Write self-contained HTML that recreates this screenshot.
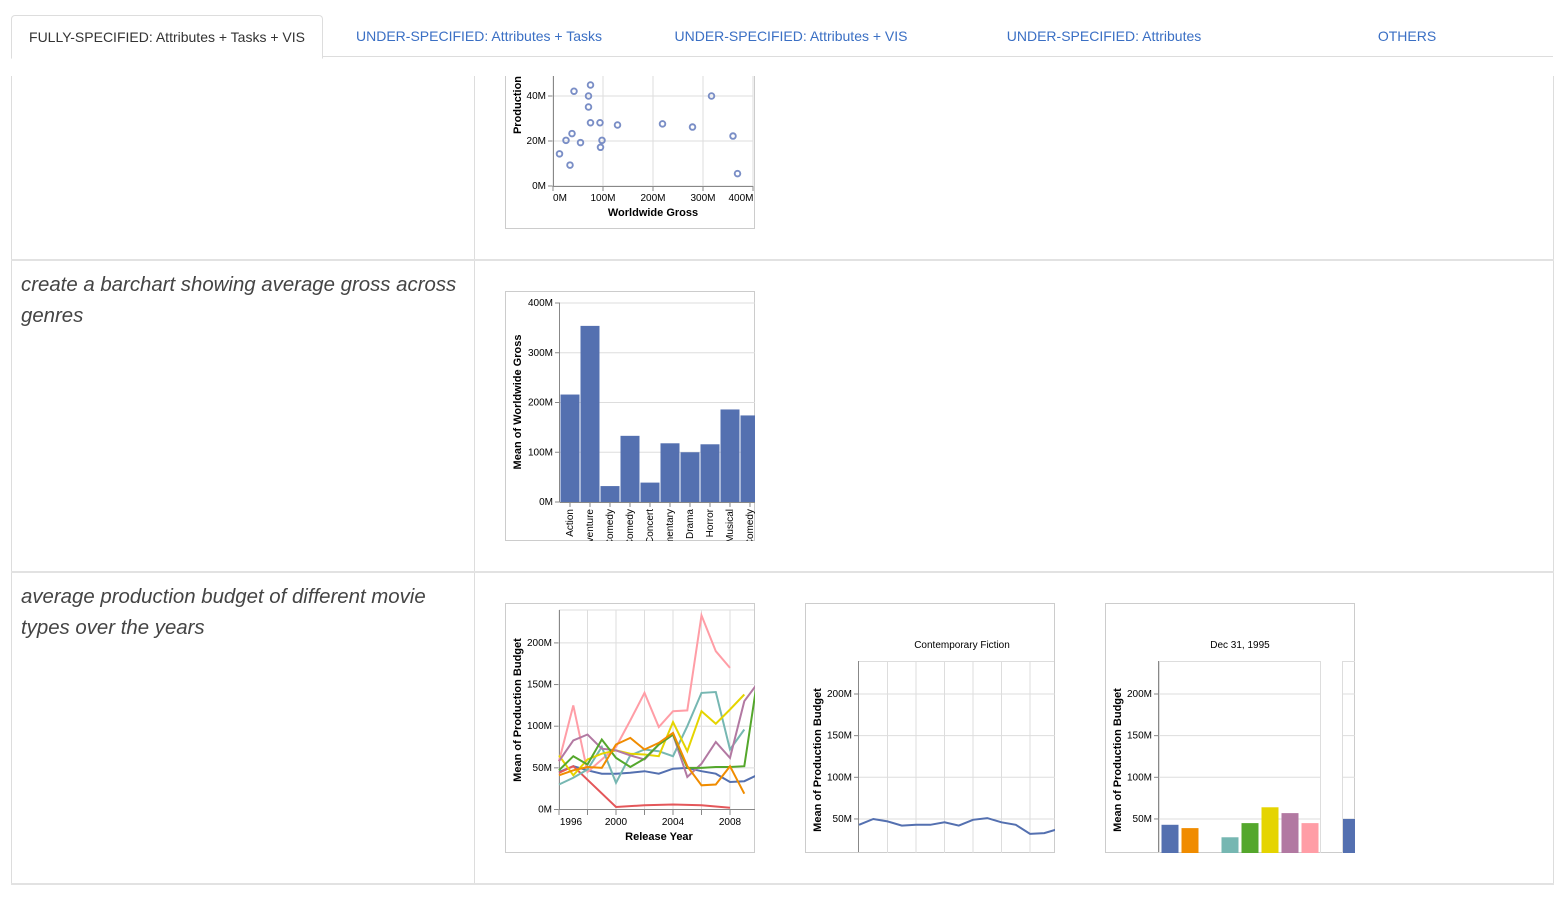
<!DOCTYPE html>
<html><head><meta charset="utf-8">
<style>
body{margin:0;width:1560px;height:915px;position:relative;background:#fff;font-family:"Liberation Sans",Arial,sans-serif;overflow:hidden}
.hdr{position:absolute;left:0;top:0;width:1560px;height:76px;background:#fff;z-index:5}
.tab{position:absolute;top:15px;height:42px;line-height:42px;font-size:14px;color:#3a6fc4;text-align:center}
.tab.active{left:11px;width:310px;border:1px solid #ddd;border-bottom:1px solid #fff;border-radius:4px 4px 0 0;color:#333;background:#fff}
.tabline{position:absolute;left:322px;top:56px;width:1231px;height:1px;background:#ddd}
.vline{position:absolute;width:1px;background:#ddd;top:60px;height:824px}
.hline{position:absolute;left:11px;width:1543px;height:2px;background:#e2e2e2}
.q{position:absolute;left:21px;width:450px;font-size:20.4px;font-style:italic;font-weight:300;color:#444;line-height:31px}
svg.ch{position:absolute;overflow:hidden}
svg text{font-family:"Liberation Sans",Arial,sans-serif}
</style></head><body>
<div class="hdr">
 <div class="tab active">FULLY-SPECIFIED: Attributes + Tasks + VIS</div>
 <div class="tab" style="left:330px;width:298px">UNDER-SPECIFIED: Attributes + Tasks</div>
 <div class="tab" style="left:640px;width:302px">UNDER-SPECIFIED: Attributes + VIS</div>
 <div class="tab" style="left:960px;width:288px">UNDER-SPECIFIED: Attributes</div>
 <div class="tab" style="left:1340px;width:134px">OTHERS</div>
 <div class="tabline"></div>
</div>
<div class="vline" style="left:11px"></div>
<div class="vline" style="left:474px"></div>
<div class="vline" style="left:1553px"></div>
<div class="hline" style="top:259px"></div>
<div class="hline" style="top:571px"></div>
<div class="hline" style="top:883px"></div>
<div class="q" style="top:270px">create a barchart showing average gross across genres</div>
<div class="q" style="top:582px">average production budget of different movie types over the years</div>

<svg class="ch" id="sc" style="left:505px;top:20px" width="250" height="209" viewBox="505 20 250 209"></svg>
<svg class="ch" id="bc" style="left:505px;top:291px" width="250" height="250" viewBox="505 291 250 250"></svg>
<svg class="ch" id="lc" style="left:505px;top:603px" width="250" height="250" viewBox="505 603 250 250"></svg>
<svg class="ch" id="mc" style="left:805px;top:603px" width="250" height="250" viewBox="805 603 250 250"></svg>
<svg class="ch" id="rc" style="left:1105px;top:603px" width="250" height="250" viewBox="1105 603 250 250"></svg>

<script>
// scatter data (millions)
const scatterGross=[13,26,34,38,42,55,71,71,75,75,94,95,98,129,219,279,317,360,369,26,180,290,320];
const scatterBudget=[14.3,20.3,9.3,23.3,42.1,19.3,40,35.1,44.9,28.1,28.1,17.2,20.3,27.1,27.6,26.2,40,22.2,5.5,55,55,55,55];
const scatterXTicks=[0,100,200,300,400];
const scatterYTicks=[0,20,40];
// bar data
const genres=["Action","Adventure","Black Comedy","Comedy","Concert","Documentary","Drama","Horror","Musical","Romantic Comedy"];
const genreGross=[216,354,32,133,39,118,100,116,186,174];
const barYTicks=[0,100,200,300,400];
// line data
const years=[1996,1997,1998,1999,2000,2001,2002,2003,2004,2005,2006,2007,2008,2009,2010];
const sBlue=[45,52,47,43,43,44,46,43,49,50,46,43,33,34,42];
const sRed=[44,52,null,null,3,null,5,null,6,null,5,null,2,null,null];
const sPink=[58,125,45,60,75,107,140,99,118,119,233,190,170,null,null];
const sTeal=[30,38,48,75,32,65,72,70,64,100,140,141,72,96,null];
const sYellow=[65,41,60,67,71,67,66,64,105,70,118,103,120,138,null];
const sPurple=[58,83,90,73,71,65,60,78,90,39,55,81,62,130,153];
const sGreen=[47,64,54,84,62,51,61,78,90,50,50,51,51,52,165];
const sOrange=[41,47,51,50,78,86,72,80,92,52,29,30,52,19,null];
const lineYTicks=[0,50,100,150,200];
const lineXTicks=[1996,2000,2004,2008];
// facet line data
const facetBlue=[43,50,47,42,43,43,46,42,49,51,46,43,32,33,38];
// facet bar data
const facetCats=["a","b","c","d","e","f","g","h"];
const facetVals=[43,39,0,28,45,64,57,45];
const facet2Val=[50];
const facetYTicks=[50,100,150,200];

const colors=["#5470b0","#e4575a","#ff9da6","#76b7b2","#e5d400","#b279a2","#54a72c","#f08c00"];
const NS="http://www.w3.org/2000/svg";
function mk(p,t,a){const e=document.createElementNS(NS,t);for(const k in a)e.setAttribute(k,a[k]);p.appendChild(e);return e;}
function txt(p,x,y,s,a){const e=mk(p,'text',Object.assign({x:x,y:y,'font-size':10,fill:'#000'},a));e.textContent=s;return e;}
function frame(svg,x,y){const r=mk(svg,'rect',{x:x+0.5,y:y+0.5,width:249,height:249,fill:'#fff',stroke:'#ccc'});
}

// ---- scatter
(function(){const s=document.getElementById('sc');frame(s,505,-21);
const X=v=>553+v*0.5, Y=v=>186-v*2.25;
scatterYTicks.forEach(t=>{mk(s,'line',{x1:553,x2:753,y1:Y(t),y2:Y(t),stroke:'#ddd'});mk(s,'line',{x1:548,x2:553,y1:Y(t),y2:Y(t),stroke:'#888'});
 const l=txt(s,546,Y(t)+3,t+'M',{'text-anchor':'end'});});
scatterXTicks.forEach(t=>{mk(s,'line',{x1:X(t),x2:X(t),y1:20,y2:186,stroke:'#ddd'});mk(s,'line',{x1:X(t),x2:X(t),y1:186,y2:191,stroke:'#888'});
 const l=txt(s,t===0?X(t)+7:(t===400?X(t)-12:X(t)),201,t+'M',{'text-anchor':'middle'});});
mk(s,'line',{x1:553,x2:753,y1:186.5,y2:186.5,stroke:'#888'});mk(s,'line',{x1:553.5,x2:553.5,y1:20,y2:186,stroke:'#888'});
scatterGross.forEach((g,i)=>{const c=mk(s,'circle',{cx:X(g),cy:Y(scatterBudget[i]),r:2.8,fill:'none',stroke:'#7a8ec6','stroke-width':1.9});
 });
const xt=txt(s,653,216,'Worldwide Gross',{'text-anchor':'middle','font-weight':'bold','font-size':11});
const yt=txt(s,521,105,'Production',{'text-anchor':'middle','font-weight':'bold','font-size':11,transform:'rotate(-90 521 105)'});
})();

// ---- bar chart
(function(){const s=document.getElementById('bc');frame(s,505,291);
const Y=v=>502-v*0.4975, X=i=>560+i*20;
barYTicks.forEach(t=>{mk(s,'line',{x1:560,x2:760,y1:Y(t),y2:Y(t),stroke:'#ddd'});mk(s,'line',{x1:555,x2:560,y1:Y(t),y2:Y(t),stroke:'#888'});
 const l=txt(s,553,Y(t)+3,t+'M',{'text-anchor':'end'});});
genreGross.forEach((v,i)=>{const r=mk(s,'rect',{x:X(i)+0.5,y:Y(v),width:19,height:Y(0)-Y(v),fill:'#5470b0'});
 
 mk(s,'line',{x1:X(i)+10,x2:X(i)+10,y1:502,y2:507,stroke:'#888'});
 const l=txt(s,X(i)+13,509,genres[i],{'text-anchor':'end',transform:'rotate(-90 '+(X(i)+13)+' 509)'});});
mk(s,'line',{x1:559.5,x2:559.5,y1:303,y2:502,stroke:'#888'});mk(s,'line',{x1:560,x2:760,y1:502.5,y2:502.5,stroke:'#888'});
const yt=txt(s,521,402,'Mean of Worldwide Gross',{'text-anchor':'middle','font-weight':'bold','font-size':11,transform:'rotate(-90 521 402)'});
})();

// ---- line chart
function lineAxes(s,x0,Y,gridYears,X){
 lineYTicks.forEach(t=>{if(Y(t)>852)return;mk(s,'line',{x1:x0,x2:x0+200,y1:Y(t),y2:Y(t),stroke:'#ddd'});mk(s,'line',{x1:x0-5,x2:x0,y1:Y(t),y2:Y(t),stroke:'#888'});
  const l=txt(s,x0-7,Y(t)+3,t+'M',{'text-anchor':'end'});});
 gridYears.forEach(yr=>mk(s,'line',{x1:X(yr),x2:X(yr),y1:662,y2:Y(0),stroke:'#ddd'}));
}
(function(){const s=document.getElementById('lc');frame(s,505,603);
const X=y=>559+(y-1996)*14.25, Y=v=>809.5-v*0.833;
lineAxes(s,559,Y,[1996,1998,2000,2002,2004,2006,2008,2010],X);
mk(s,'line',{x1:559,x2:754,y1:610,y2:610,stroke:'#ddd'});
[1996,1998,2000,2002,2004,2006,2008].forEach(yr=>mk(s,'line',{x1:X(yr),x2:X(yr),y1:610,y2:662,stroke:'#ddd'}));
mk(s,'line',{x1:559.5,x2:559.5,y1:610,y2:810,stroke:'#888'});mk(s,'line',{x1:559,x2:760,y1:809.5,y2:809.5,stroke:'#888'});
[1996,1998,2000,2002,2004,2006,2008].forEach(yr=>mk(s,'line',{x1:X(yr),x2:X(yr),y1:810,y2:815,stroke:'#888'}));
lineXTicks.forEach(yr=>{const l=txt(s,yr===1996?X(yr)+12:X(yr),825,String(yr),{'text-anchor':'middle'});});
const series=[sBlue,sRed,sPink,sTeal,sYellow,sPurple,sGreen,sOrange];
const names=['blue','red','pink','teal','yellow','purple','green','orange'];
series.forEach((arr,k)=>{const pts=[];arr.forEach((v,i)=>{if(v!==null)pts.push(X(years[i]).toFixed(1)+','+Y(v).toFixed(1));});
 const p=mk(s,'polyline',{points:pts.join(' '),fill:'none',stroke:colors[k],'stroke-width':2});
 });
const xt=txt(s,659,840,'Release Year',{'text-anchor':'middle','font-weight':'bold','font-size':11});
const yt=txt(s,521,710,'Mean of Production Budget',{'text-anchor':'middle','font-weight':'bold','font-size':11,transform:'rotate(-90 521 710)'});
})();

// ---- facet line chart
(function(){const s=document.getElementById('mc');frame(s,805,603);
const X=y=>859+(y-1996)*14.25, Y=v=>860.6-v*0.833;
lineAxes(s,859,Y,[1998,2000,2002,2004,2006,2008],X);
mk(s,'line',{x1:859,x2:1054,y1:661.5,y2:661.5,stroke:'#ddd'});
mk(s,'line',{x1:858.5,x2:858.5,y1:661,y2:852,stroke:'#888'});
const pts=facetBlue.map((v,i)=>X(years[i]).toFixed(1)+','+Y(v).toFixed(1)).join(' ');
const p=mk(s,'polyline',{points:pts,fill:'none',stroke:'#5470b0','stroke-width':2});
const t=txt(s,962,648,'Contemporary Fiction',{'text-anchor':'middle'});
const yt=txt(s,821,760,'Mean of Production Budget',{'text-anchor':'middle','font-weight':'bold','font-size':11,transform:'rotate(-90 821 760)'});
})();

// ---- facet bar chart
(function(){const s=document.getElementById('rc');frame(s,1105,603);
const Y=v=>860.6-v*0.833, X=i=>1160+i*20;
facetYTicks.forEach(t=>{mk(s,'line',{x1:1159,x2:1321,y1:Y(t),y2:Y(t),stroke:'#ddd'});mk(s,'line',{x1:1343,x2:1360,y1:Y(t),y2:Y(t),stroke:'#ddd'});mk(s,'line',{x1:1154,x2:1159,y1:Y(t),y2:Y(t),stroke:'#888'});
 const l=txt(s,1152,Y(t)+3,t+'M',{'text-anchor':'end'});});
mk(s,'rect',{x:1159.5,y:661.5,width:161,height:200,fill:'none',stroke:'#ddd'});
mk(s,'rect',{x:1342.5,y:661.5,width:40,height:200,fill:'none',stroke:'#ddd'});
const bc=["#5470b0","#f08c00","#e4575a","#76b7b2","#54a72c","#e5d400","#b279a2","#ff9da6"];
facetVals.forEach((v,i)=>{const r=mk(s,'rect',{x:X(i)+1.5,y:Y(v),width:17,height:Y(0)-Y(v),fill:bc[i]});
 });
facet2Val.forEach(v=>{const r=mk(s,'rect',{x:1343,y:Y(v),width:17,height:Y(0)-Y(v),fill:'#5470b0'});});
mk(s,'line',{x1:1158.5,x2:1158.5,y1:661,y2:852,stroke:'#888'});
const t=txt(s,1240,648,'Dec 31, 1995',{'text-anchor':'middle'});
const yt=txt(s,1121,760,'Mean of Production Budget',{'text-anchor':'middle','font-weight':'bold','font-size':11,transform:'rotate(-90 1121 760)'});
})();
</script>
</body></html>
